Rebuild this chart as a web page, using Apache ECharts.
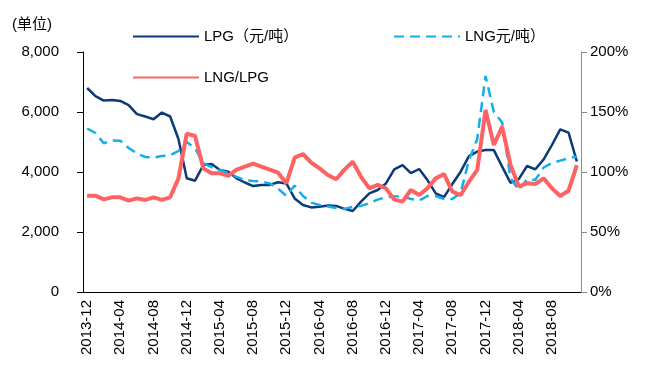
<!DOCTYPE html>
<html>
<head>
<meta charset="utf-8">
<script src="https://cdn.jsdelivr.net/npm/echarts@6/dist/echarts.min.js"></script>
<style>
  html, body { margin: 0; padding: 0; background: #fff; }
  #chart { width: 649px; height: 374px; }
</style>
</head>
<body>
<div id="chart"></div>
<script>
// monthly categories 2013-12 .. 2018-11
const months = [];
for (let y = 2013, m = 12; months.length < 60; m++) {
    if (m > 12) { m = 1; y++; }
    months.push(y + '-' + String(m).padStart(2, '0'));
}

// LPG price (元/吨)
const lpgPrice = [
    6800, 6530, 6380, 6400, 6370, 6230, 5930, 5850, 5760, 5980,
    5850, 5100, 3790, 3710, 4230, 4270, 4070, 4010, 3790, 3650,
    3530, 3570, 3570, 3660, 3620, 3120, 2900, 2820, 2840, 2880,
    2870, 2770, 2700, 3010, 3290, 3400, 3620, 4090, 4230, 3960,
    4100, 3730, 3290, 3160, 3600, 4010, 4530, 4680, 4730, 4730,
    4180, 3640, 3760, 4200, 4090, 4420, 4900, 5420, 5310, 4350
];

// LNG price (元/吨)
const lngPrice = [
    5450, 5300, 4960, 5050, 5040, 4800, 4620, 4500, 4480, 4530,
    4560, 4700, 5000, 4790, 4290, 4160, 4070, 3960, 3840, 3730,
    3700, 3680, 3620, 3450, 3200, 3550, 3200, 2980, 2900, 2850,
    2800, 2770, 2840, 2870, 2960, 3080, 3160, 3180, 3200, 3100,
    3050, 3200, 3200, 3100, 3100, 3300, 4400, 5100, 7200, 6000,
    5650, 3800, 3400, 3750, 3740, 4150, 4300, 4380, 4460, 4520
];

// LNG/LPG ratio (%)
const ratio = [
    80.3, 80.3, 77.2, 78.9, 78.9, 76.1, 78.0, 76.7, 78.9, 76.7,
    78.9, 94.7, 132.0, 130.0, 103.0, 98.9, 98.9, 96.7, 102.0, 104.4,
    107.0, 104.4, 102.0, 99.4, 90.6, 112.0, 115.0, 107.8, 103.0, 97.5,
    93.9, 102.0, 108.6, 96.0, 86.4, 89.2, 86.4, 77.0, 75.3, 85.0,
    80.8, 86.4, 94.7, 98.3, 83.6, 80.8, 91.9, 101.7, 151.7, 122.5,
    137.8, 106.0, 88.0, 90.6, 90.0, 94.7, 86.4, 80.0, 84.4, 105.8
];

const leftTicks = { min: 0, max: 8000, interval: 2000 };
const rightTicks = { min: 0, max: 200, interval: 50 };

const fontFamily = 'Liberation Sans, Arial, Noto Sans CJK SC, sans-serif';
const chart = echarts.init(document.getElementById('chart'));

function makeLegend(name, left, top) {
    return {
        data: [name],
        left: left,
        top: top,
        itemWidth: 66,
        itemHeight: 14,
        itemGap: 5,
        itemStyle: { opacity: 0 },
        lineStyle: { opacity: 1 },
        textStyle: { fontFamily: fontFamily, fontSize: 15, color: '#000' }
    };
}

const option = {
    animation: false,
    title: {
        text: '(单位)',
        left: 7,
        top: 12,
        textStyle: { fontFamily: fontFamily, fontSize: 15, fontWeight: 'normal', color: '#000' }
    },
    legend: [
        makeLegend('LPG（元/吨）', 127, 24),
        makeLegend('LNG元/吨）', 388, 24),
        makeLegend('LNG/LPG', 127, 65)
    ],
    grid: { left: 83, right: 68, top: 52, bottom: 82 },
    xAxis: {
        type: 'category',
        data: months,
        boundaryGap: true,
        axisLine: { lineStyle: { color: '#000', width: 1 } },
        axisTick: { interval: 3, length: 6, lineStyle: { color: '#000' } },
        axisLabel: {
            interval: 3,
            rotate: 90,
            margin: 8,
            fontFamily: fontFamily,
            fontSize: 15,
            color: '#000'
        }
    },
    yAxis: [
        {
            type: 'value',
            min: leftTicks.min,
            max: leftTicks.max,
            interval: leftTicks.interval,
            splitLine: { show: false },
            axisLine: { show: true, lineStyle: { color: '#000' } },
            axisTick: { show: true, length: 6, lineStyle: { color: '#000' } },
            axisLabel: {
                margin: 24,
                fontFamily: fontFamily,
                fontSize: 15,
                color: '#000',
                formatter: function(v) { return v.toLocaleString('en-US'); }
            }
        },
        {
            type: 'value',
            min: rightTicks.min,
            max: rightTicks.max,
            interval: rightTicks.interval,
            position: 'right',
            splitLine: { show: false },
            axisLine: { show: true, lineStyle: { color: '#8c8c8c' } },
            axisTick: { show: true, length: 6, lineStyle: { color: '#8c8c8c' } },
            axisLabel: {
                margin: 9,
                fontFamily: fontFamily,
                fontSize: 15,
                color: '#000',
                formatter: '{value}%'
            }
        }
    ],
    series: [
        {
            name: 'LPG（元/吨）',
            type: 'line',
            data: lpgPrice,
            symbol: 'none',
            lineStyle: { color: '#0b3a78', width: 2.5 },
            itemStyle: { color: '#0b3a78' }
        },
        {
            name: 'LNG元/吨）',
            type: 'line',
            data: lngPrice,
            symbol: 'none',
            lineStyle: { color: '#12aee8', width: 2.5, type: [10, 6] },
            itemStyle: { color: '#12aee8' }
        },
        {
            name: 'LNG/LPG',
            type: 'line',
            yAxisIndex: 1,
            data: ratio,
            symbol: 'none',
            lineStyle: { color: '#ff6262', width: 4 },
            itemStyle: { color: '#ff6262' }
        }
    ]
};

chart.setOption(option);
</script>
</body>
</html>
